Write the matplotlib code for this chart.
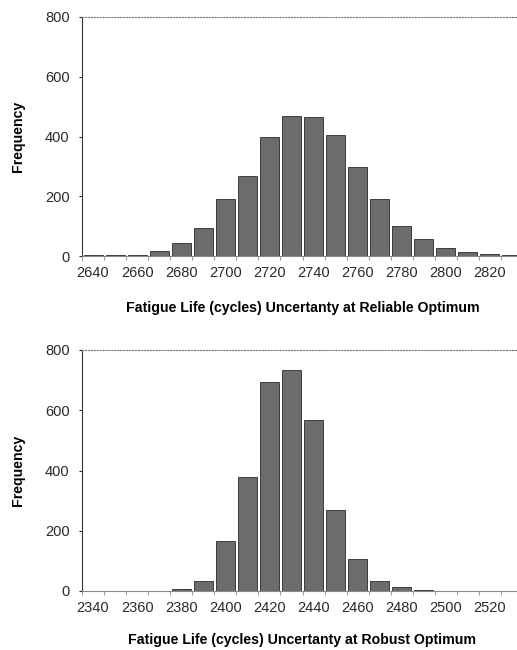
import matplotlib
matplotlib.use("Agg")
import matplotlib.pyplot as plt
import numpy as np

plt.rcParams['font.family'] = ['Liberation Sans', 'DejaVu Sans']

# Top histogram: reliable optimum
rel_bins = [2640, 2650, 2660, 2670, 2680, 2690, 2700, 2710, 2720, 2730,
            2740, 2750, 2760, 2770, 2780, 2790, 2800, 2810, 2820, 2830]
rel_counts = [2, 3, 3, 17, 44, 93, 192, 268, 400, 468,
              464, 405, 297, 192, 101, 57, 28, 14, 6, 5]
rel_ticks = [2640, 2660, 2680, 2700, 2720, 2740, 2760, 2780, 2800, 2820]
rel_title = "Fatigue Life (cycles) Uncertanty at Reliable Optimum"

# Bottom histogram: robust optimum
rob_bins = [2340, 2350, 2360, 2370, 2380, 2390, 2400, 2410, 2420, 2430,
            2440, 2450, 2460, 2470, 2480, 2490, 2500, 2510, 2520, 2530]
rob_counts = [0, 0, 0, 1, 5, 34, 166, 379, 695, 734,
              568, 270, 106, 32, 13, 4, 1, 0, 0, 0]
rob_ticks = [2340, 2360, 2380, 2400, 2420, 2440, 2460, 2480, 2500, 2520]
rob_title = "Fatigue Life (cycles) Uncertanty at Robust Optimum"

y_ticks = [0, 200, 400, 600, 800]

W, H = 517, 650
fig = plt.figure(figsize=(W / 100, H / 100), dpi=100)

def make_ax(left_px, right_px, top_px, bottom_px):
    return fig.add_axes([left_px / W, 1 - bottom_px / H,
                         (right_px - left_px) / W, (bottom_px - top_px) / H])

def draw(ax, bins, counts, ticks, title, xpad):
    step = bins[1] - bins[0]
    ax.bar(bins, counts, width=step * 0.86, color='#6c6c6c',
           edgecolor='#2a2a2a', linewidth=0.6, zorder=2)
    ax.set_xlim(bins[0] - step / 2, bins[-1] + step / 2)
    ax.set_ylim(0, 800)
    ax.set_yticks(y_ticks)
    ax.set_xticks(ticks)
    ax.set_xticklabels([str(t) for t in ticks])
    ax.set_xticks([b - step / 2 for b in bins] + [bins[-1] + step / 2], minor=True)
    ax.tick_params(axis='x', which='major', length=0, labelsize=10.5,
                   colors='#2a2a2a', pad=7)
    ax.tick_params(axis='x', which='minor', length=3, color='#888888')
    ax.tick_params(axis='y', which='major', length=2, labelsize=10.5,
                   colors='#2a2a2a', pad=7)
    ax.spines['top'].set_linestyle(':')
    ax.spines['top'].set_color('#777777')
    ax.spines['right'].set_visible(False)
    ax.spines['left'].set_color('#333333')
    ax.spines['bottom'].set_color('#888888')
    ax.set_xlabel(title, fontsize=10.2, fontweight='bold', labelpad=xpad)
    ax.set_ylabel('Frequency', fontsize=10.2, fontweight='bold', labelpad=14)

ax1 = make_ax(82, 523, 17, 256)
draw(ax1, rel_bins, rel_counts, rel_ticks, rel_title, 15)
ax2 = make_ax(82, 523, 350, 591)
draw(ax2, rob_bins, rob_counts, rob_ticks, rob_title, 13)

fig.savefig('out.png', dpi=100, facecolor='white')
